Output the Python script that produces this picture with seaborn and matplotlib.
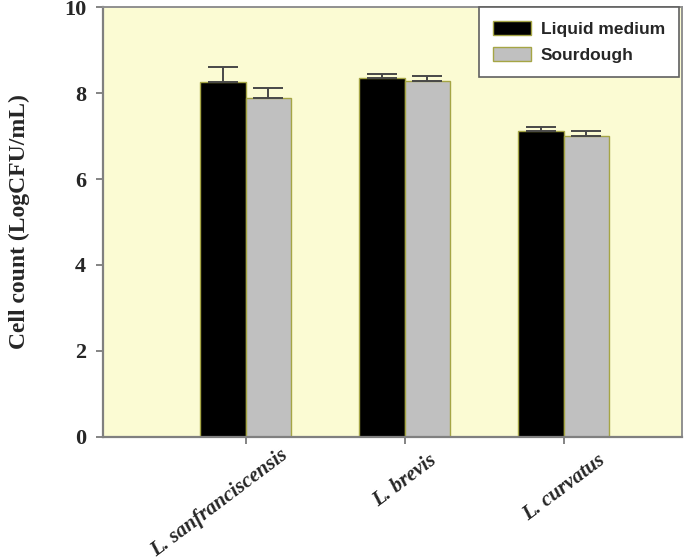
import matplotlib
matplotlib.use("Agg")
import matplotlib.pyplot as plt
import matplotlib.transforms as mtrans
import seaborn as sns
import pandas as pd
import numpy as np

categories = ["L. sanfranciscensis", "L. brevis", "L. curvatus"]
series = ["Liquid medium", "Sourdough"]
liquid = [8.26, 8.36, 7.13]
sourdough = [7.88, 8.29, 7.00]
liquid_err = [0.35, 0.09, 0.08]
sourdough_err = [0.25, 0.12, 0.12]
yticks = [0, 2, 4, 6, 8, 10]

df = pd.DataFrame({
    "strain": categories * 2,
    "medium": [series[0]] * 3 + [series[1]] * 3,
    "value": liquid + sourdough,
})

sns.set_theme(style="white")
fig = plt.figure(figsize=(6.85, 5.60), dpi=100)
ax = fig.add_axes([0.150, 0.220, 0.845, 0.767])
ax.set_facecolor("#FBFBD3")

sns.barplot(data=df, x="strain", y="value", hue="medium", hue_order=series,
            order=categories, palette=["#000000", "#C0C0C0"], width=0.57,
            errorbar=None, edgecolor="#A5A545", linewidth=1.0, ax=ax,
            saturation=1)

# error bars (upper only)
for cont, err in zip(ax.containers, [liquid_err, sourdough_err]):
    for rect, e in zip(cont, err):
        xc = rect.get_x() + rect.get_width() / 2
        top = rect.get_height()
        ax.errorbar(xc, top, yerr=[[0], [e]], fmt="none", ecolor="#484848",
                    elinewidth=1.4, capsize=11, capthick=1.4, zorder=3)

ax.set_ylim(0, 10)
ax.set_xlim(-0.897, 2.74)
ax.set_yticks(yticks)
ax.set_yticklabels([str(t) for t in yticks], fontfamily="Liberation Serif",
                   fontweight="bold", fontsize=16)
ax.set_xticks(range(len(categories)))
ax.set_xticklabels(categories, fontfamily="Liberation Serif", fontweight="bold",
                   fontstyle="italic", fontsize=15, rotation=37, ha="center")
ax.tick_params(axis="both", which="both", direction="out", length=5, width=1.2,
               color="#707070", bottom=True, left=True)
ax.tick_params(axis="y", pad=7)
ax.tick_params(axis="x", pad=5)
ax.set_xlabel("")
ax.set_ylabel("Cell count (LogCFU/mL)", fontfamily="Liberation Serif",
              fontweight="bold", fontsize=17, labelpad=24)

# the long first label sits further left in the reference
first = ax.get_xticklabels()[0]
first.set_transform(first.get_transform() +
                    mtrans.ScaledTranslation(-26 / 100, 6 / 100, fig.dpi_scale_trans))

for side in ["left", "bottom"]:
    ax.spines[side].set_color("#808080")
    ax.spines[side].set_linewidth(1.6)
for side in ["top", "right"]:
    ax.spines[side].set_color("#909090")
    ax.spines[side].set_linewidth(1.4)

leg = ax.legend(loc="upper right", bbox_to_anchor=(1.004, 1.012), frameon=True,
                fancybox=False, edgecolor="#606060",
                prop={"family": "Liberation Sans", "weight": "bold", "size": 12.5},
                handlelength=2.2, handleheight=0.8, borderpad=0.8,
                labelspacing=0.6, handletextpad=0.55, borderaxespad=0.3)
leg.get_frame().set_linewidth(1.2)
leg.get_frame().set_facecolor("white")
leg.get_frame().set_alpha(1)

fig.savefig("out.png", dpi=100)
